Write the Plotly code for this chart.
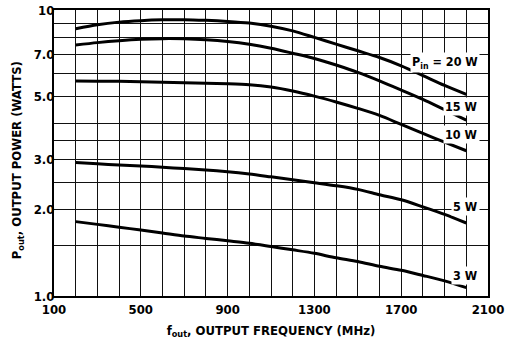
import math
import plotly.graph_objects as go

# Data
freq_mhz = [200, 300, 400, 500, 600, 700, 800, 900, 1000, 1100, 1200, 1300, 1400, 1500, 1600, 1700, 1800, 1900, 2000]
p20 = [8.6, 8.88, 9.07, 9.18, 9.24, 9.25, 9.2, 9.12, 9.0, 8.78, 8.45, 8.02, 7.6, 7.2, 6.82, 6.38, 5.9, 5.45, 5.07]
p15 = [7.54, 7.69, 7.81, 7.9, 7.94, 7.93, 7.87, 7.76, 7.59, 7.35, 7.06, 6.77, 6.42, 6.05, 5.65, 5.25, 4.87, 4.48, 4.12]
p10 = [5.65, 5.64, 5.63, 5.61, 5.59, 5.57, 5.54, 5.52, 5.48, 5.38, 5.21, 5.0, 4.77, 4.53, 4.28, 3.98, 3.7, 3.45, 3.22]
p5 = [2.93, 2.9, 2.87, 2.85, 2.82, 2.79, 2.76, 2.72, 2.67, 2.61, 2.55, 2.49, 2.43, 2.36, 2.26, 2.17, 2.05, 1.93, 1.80]
p3 = [1.82, 1.78, 1.74, 1.7, 1.66, 1.62, 1.59, 1.56, 1.53, 1.49, 1.45, 1.41, 1.36, 1.32, 1.27, 1.23, 1.18, 1.13, 1.07]
series = [p20, p15, p10, p5, p3]

curve_labels = ["P<sub>in</sub> = 20 W", "15 W", "10 W", "5 W", "3 W"]
label_watts = [6.55, 4.58, 3.66, 2.05, 1.18]
label_freq = 2062

# grid positions and labels
x_grid = list(range(100, 2101, 100))
x_labeled = [100, 500, 900, 1300, 1700, 2100]
y_grid = [1, 1.5, 2, 2.5, 3, 3.5, 4, 5, 6, 7, 8, 9, 10]
y_labels = {1: "1.0", 2: "2.0", 3: "3.0", 5: "5.0", 7: "7.0", 10: "10"}

FONT = "DejaVu Sans Condensed, Liberation Sans, sans-serif"

fig = go.Figure()
for vals in series:
    fig.add_trace(go.Scatter(x=freq_mhz, y=vals, mode="lines",
                             line=dict(color="black", width=3, shape="spline", smoothing=0.8),
                             showlegend=False, hoverinfo="skip"))

for txt, w in zip(curve_labels, label_watts):
    fig.add_annotation(x=label_freq, y=math.log10(w), xref="x", yref="y", text=txt,
                       showarrow=False, xanchor="right", yanchor="middle",
                       bgcolor="white", borderpad=1,
                       font=dict(family=FONT, size=12.5, color="black", weight="bold"))

# y-axis title as rotated text beside the axis
fig.add_annotation(x=-0.085, y=0.475, xref="paper", yref="paper", textangle=-90,
                   text="P<sub>out</sub>, OUTPUT POWER (WATTS)", showarrow=False,
                   xanchor="center", yanchor="middle",
                   font=dict(family=FONT, size=13, color="black", weight="bold"))

fig.update_xaxes(range=[100, 2100], tickmode="array", tickvals=x_grid,
                 ticktext=[str(v) if v in x_labeled else "" for v in x_grid],
                 showgrid=True, gridcolor="#111", gridwidth=1.4,
                 showline=True, linecolor="black", linewidth=2, mirror=True,
                 ticks="", zeroline=False, automargin=False, ticklabeloverflow="allow",
                 tickfont=dict(family=FONT, size=13, color="black", weight="bold"),
                 title=dict(text="f<sub>out</sub>, OUTPUT FREQUENCY (MHz)", standoff=10,
                            font=dict(family=FONT, size=13, color="black", weight="bold")))
fig.update_yaxes(type="log", range=[0, 1], tickmode="array", tickvals=y_grid,
                 ticktext=[y_labels.get(v, "") for v in y_grid],
                 showgrid=True, gridcolor="#111", gridwidth=1.4,
                 showline=True, linecolor="black", linewidth=2, mirror=True,
                 ticks="", zeroline=False, automargin=False, ticklabeloverflow="allow",
                 ticklabelstandoff=-5,
                 tickfont=dict(family=FONT, size=13, color="black", weight="bold"))

fig.update_layout(width=505, height=343, margin=dict(l=54, r=17, t=10, b=47, autoexpand=False),
                  paper_bgcolor="white", plot_bgcolor="white")

# remove the default page margin so the figure sits at the window's top-left corner
fig.write_html("out.html", config={"displayModeBar": False},
               post_script="document.body.style.margin='0';")
